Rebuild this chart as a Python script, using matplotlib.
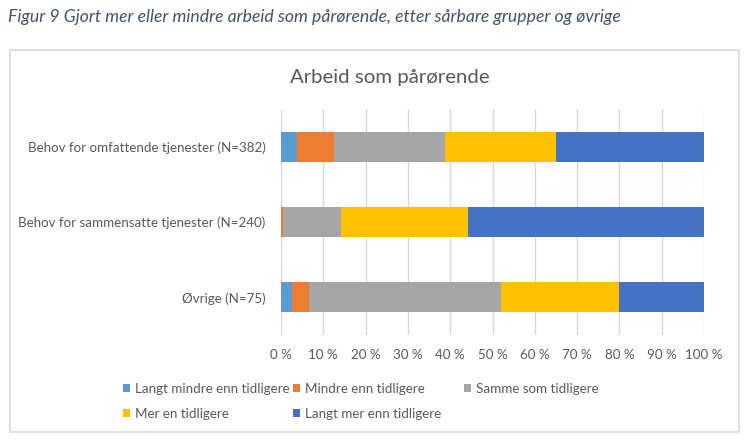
import numpy as np
import matplotlib.pyplot as plt
from matplotlib.patches import Rectangle

# Data (andeler i prosent)
grupper = ['Behov for omfattende tjenester (N=382)',
           'Behov for sammensatte tjenester (N=240)',
           'Øvrige (N=75)']
kategorier = ['Langt mindre enn tidligere', 'Mindre enn tidligere', 'Samme som tidligere',
              'Mer en tidligere', 'Langt mer enn tidligere']
langt_mindre = [3.9, 0.0, 2.7]
mindre = [8.6, 0.4, 4.0]
samme = [26.2, 13.8, 45.3]
mer = [26.4, 30.0, 28.0]
langt_mer = [34.9, 55.8, 20.0]
xticks = [0, 10, 20, 30, 40, 50, 60, 70, 80, 90, 100]

farger = ['#5B9BD5', '#ED7D31', '#A5A5A5', '#FFC000', '#4472C4']
tekstfarge = '#595959'

plt.rcParams['font.family'] = ['Lato', 'DejaVu Sans']

fig = plt.figure(figsize=(7.45, 4.43), dpi=100)
W, H = 745, 443

# Ramme rundt diagrammet
fig.patches.append(Rectangle((10 / W, 1 - 432 / H), 729 / W, 382 / H, transform=fig.transFigure,
                             facecolor='none', edgecolor='#D9D9D9', linewidth=1.2, zorder=0))

fig.text(8 / W, 1 - 17 / H, 'Figur 9 Gjort mer eller mindre arbeid som pårørende, etter sårbare grupper og øvrige',
         fontsize=12.7, style='italic', color='#44546A', va='center', ha='left')

ax = fig.add_axes([281 / W, 1 - 335 / H, 423 / W, 226 / H])
ax.set_facecolor('none')

y = np.arange(len(grupper))
serier = [langt_mindre, mindre, samme, mer, langt_mer]
venstre = np.zeros(len(grupper))
handles = []
for navn, verdier, farge in zip(kategorier, serier, farger):
    b = ax.barh(y, verdier, left=venstre, height=0.4, color=farge, label=navn, zorder=3)
    handles.append(b)
    venstre += np.array(verdier)

ax.set_xlim(0, 100)
ax.set_ylim(2.5, -0.5)
ax.set_yticks(y)
ax.set_yticklabels(grupper)
ax.set_xticks(xticks)
ax.set_xticklabels([f'{v} %' for v in xticks])
ax.tick_params(axis='both', length=0, colors=tekstfarge, labelsize=9.6)
ax.tick_params(axis='y', pad=11)
ax.tick_params(axis='x', pad=10)
ax.grid(axis='x', color='#D9D9D9', linewidth=1, zorder=0)
for s in ax.spines.values():
    s.set_visible(False)

fig.text(390 / W, 1 - 77 / H, 'Arbeid som pårørende', fontsize=14.7, color=tekstfarge,
         ha='center', va='center')

# Legende: tre kolonner med lik bredde, som i Excel
kolonner = [[0, 3], [1, 4], [2]]
kolonne_x = [123, 293, 464]
for idx, x0 in zip(kolonner, kolonne_x):
    fig.legend([handles[i] for i in idx], [kategorier[i] for i in idx],
               loc='upper left', bbox_to_anchor=(x0 / W, 1 - 383 / H),
               frameon=False, fontsize=9.6, handlelength=0.55, handleheight=0.55,
               handletextpad=0.35, labelspacing=0.95, borderpad=0, borderaxespad=0,
               labelcolor=tekstfarge)

fig.savefig('out.png', dpi=100)
